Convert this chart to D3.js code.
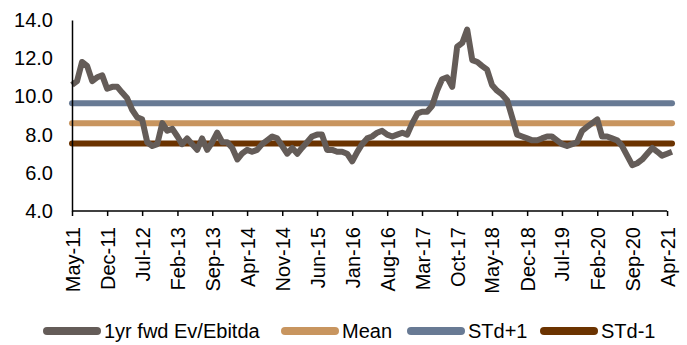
<!DOCTYPE html>
<html>
<head>
<meta charset="utf-8">
<script src="https://cdn.jsdelivr.net/npm/d3@7"></script>
<style>
  body { margin: 0; background: #fff; }
  text { font-family: Arial, "Liberation Sans", sans-serif; fill: #000; }
</style>
</head>
<body>
<div id="chart"></div>
<script>
            // Monthly 1yr fwd EV/EBITDA, May-11 .. May-21
            var evEbitda = [10.6, 10.8, 11.8, 11.6, 10.8, 11.0, 11.1, 10.4, 10.5, 10.5,
                10.2, 9.9, 9.3, 8.9, 8.8, 7.6, 7.4, 7.5, 8.6, 8.2,
                8.3, 7.9, 7.5, 7.8, 7.5, 7.2, 7.8, 7.2, 7.6, 8.1,
                7.6, 7.6, 7.3, 6.7, 7.0, 7.2, 7.1, 7.2, 7.5, 7.7,
                7.9, 7.8, 7.4, 7.0, 7.3, 7.0, 7.3, 7.6, 7.9, 8.0,
                8.0, 7.2, 7.2, 7.1, 7.1, 7.0, 6.6, 7.1, 7.5, 7.8,
                7.9, 8.1, 8.2, 8.0, 7.9, 8.0, 8.1, 8.0, 8.6, 9.1,
                9.2, 9.2, 9.5, 10.3, 10.9, 11.0, 10.5, 12.6, 12.8, 13.5,
                11.9, 11.8, 11.6, 11.4, 10.6, 10.3, 10.1, 9.8, 8.9, 8.0,
                7.9, 7.8, 7.7, 7.7, 7.8, 7.9, 7.9, 7.7, 7.5, 7.4,
                7.5, 7.6, 8.2, 8.4, 8.6, 8.8, 7.9, 7.9, 7.8, 7.7,
                7.4, 6.9, 6.4, 6.5, 6.7, 7.0, 7.3, 7.1, 6.9, 7.0, 7.1];
            var meanValue = 8.59;
            var stdPlus1 = 9.64;
            var stdMinus1 = 7.54;

            var yTicks = [4, 6, 8, 10, 12, 14];
            var xTickLabels = ["May-11", "Dec-11", "Jul-12", "Feb-13", "Sep-13", "Apr-14",
                "Nov-14", "Jun-15", "Jan-16", "Aug-16", "Mar-17", "Oct-17", "May-18",
                "Dec-18", "Jul-19", "Feb-20", "Sep-20", "Apr-21"];

            var seriesNames = ["1yr fwd Ev/Ebitda", "Mean", "STd+1", "STd-1"];
            var colors = ["#645c58", "#c8955f", "#687a94", "#6b3300"];

            var w = 687;
            var h = 345;
            var months = d3.timeMonth.range(new Date(2011, 4, 1), new Date(2021, 5, 1));
            var parseTick = d3.timeParse("%b-%y");
            var fmt = d3.timeFormat("%b-%y");

            var xScale = d3.scaleTime()
                .domain([months[0], months[months.length - 1]])
                .range([72, 672]);

            var yScale = d3.scaleLinear()
                .domain([4, 14])
                .range([211, 20]);

            var svg = d3.select("#chart")
                .append("svg")
                .attr("width", w)
                .attr("height", h);

            // Horizontal reference lines (drawn first, series on top)
            var refs = [
                { name: "STd+1", v: stdPlus1, c: colors[2] },
                { name: "Mean", v: meanValue, c: colors[1] },
                { name: "STd-1", v: stdMinus1, c: colors[3] }
            ];

            svg.selectAll("line.ref")
                .data(refs)
                .enter()
                .append("line")
                .attr("class", "ref")
                .attr("x1", xScale(months[0]))
                .attr("x2", xScale(months[months.length - 1]))
                .attr("y1", function (d) { return yScale(d.v); })
                .attr("y2", function (d) { return yScale(d.v); })
                .attr("stroke", function (d) { return d.c; })
                .attr("stroke-width", 6)
                .attr("stroke-linecap", "round");

            // main series
            var line = d3.line()
                .x(function (d, i) { return xScale(months[i]); })
                .y(function (d) { return yScale(d); });

            svg.append("path")
                .datum(evEbitda)
                .attr("d", line)
                .attr("fill", "none")
                .attr("stroke", colors[0])
                .attr("stroke-width", 6)
                .attr("stroke-linejoin", "round");

            // Y axis
            var yAxis = d3.axisLeft(yScale)
                .tickValues(yTicks)
                .tickSize(0)
                .tickPadding(19)
                .tickFormat(d3.format(".1f"));

            var gy = svg.append("g")
                .attr("transform", "translate(72,0)")
                .call(yAxis);
            gy.select(".domain").attr("stroke", "#000").attr("stroke-width", 1.5);
            gy.selectAll("text").style("font-size", "20px");

            // X axis
            var xAxis = d3.axisBottom(xScale)
                .tickValues(xTickLabels.map(function (s) { return parseTick(s); }))
                .tickSize(5)
                .tickSizeOuter(0)
                .tickFormat(fmt);

            var gx = svg.append("g")
                .attr("transform", "translate(0,211)")
                .call(xAxis);
            gx.select(".domain").attr("stroke", "#000").attr("stroke-width", 1.5)
                .attr("d", "M72,0H" + xScale(parseTick("Apr-21")));
            gx.selectAll(".tick line").attr("stroke", "#000").attr("stroke-width", 1.5);
            gx.selectAll("text")
                .style("font-size", "20px")
                .attr("text-anchor", "end")
                .attr("transform", "rotate(-90)")
                .attr("x", -16)
                .attr("y", 0)
                .attr("dy", "0.35em");

            // Legend
            var legendX = [43, 281, 407, 540];
            var legend = svg.selectAll("g.legend")
                .data(seriesNames)
                .enter()
                .append("g")
                .attr("class", "legend")
                .attr("transform", function (d, i) { return "translate(" + legendX[i] + ",331)"; });

            legend.append("line")
                .attr("x1", 4)
                .attr("x2", 54)
                .attr("stroke", function (d, i) { return colors[i]; })
                .attr("stroke-width", 8)
                .attr("stroke-linecap", "round");

            legend.append("text")
                .attr("x", 61)
                .attr("dy", "0.35em")
                .style("font-size", "20px")
                .text(function (d) { return d; });
</script>
</body>
</html>
